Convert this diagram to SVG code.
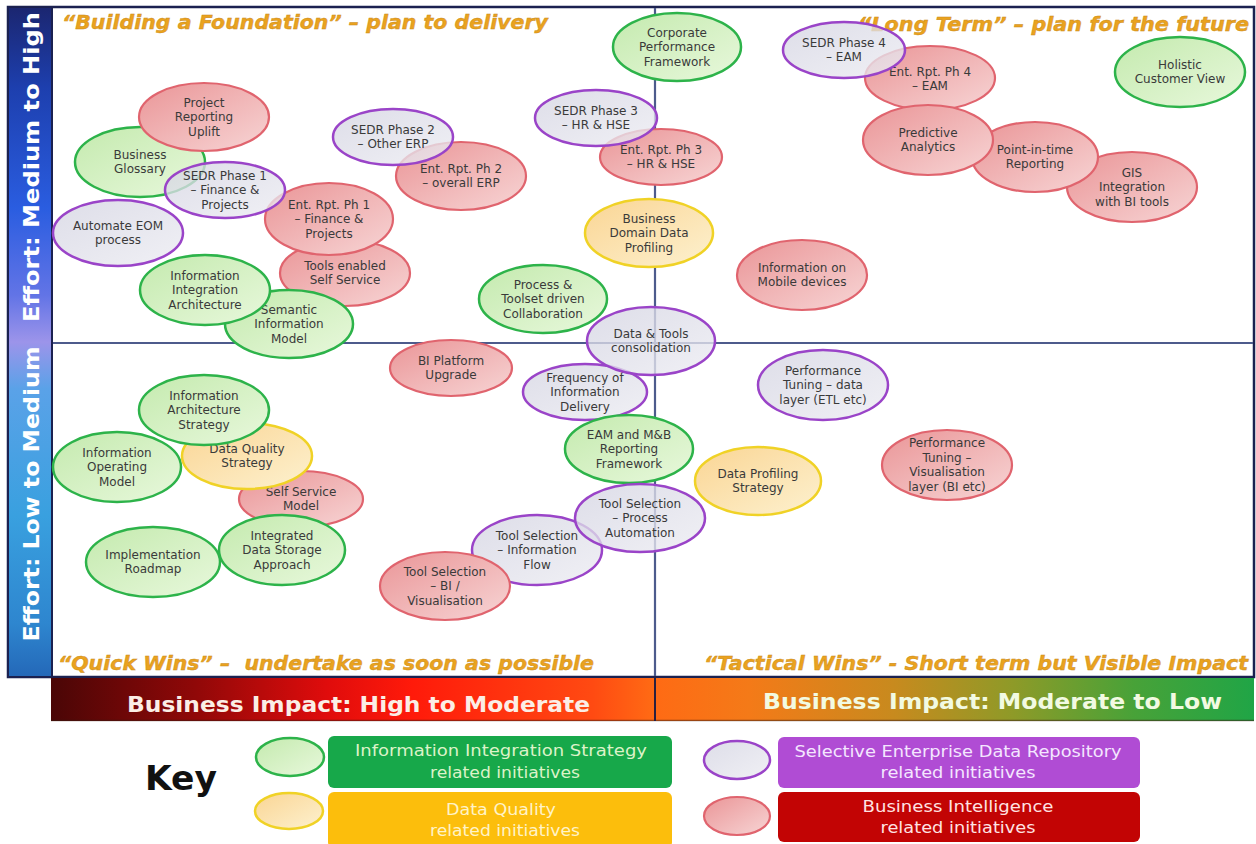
<svg xmlns="http://www.w3.org/2000/svg" width="1256" height="844" viewBox="0 0 1256 844">
  <defs>
    <linearGradient id="leftBar" x1="0" y1="0" x2="0" y2="1">
      <stop offset="0" stop-color="#1b2670"/>
      <stop offset="0.12" stop-color="#1d3fae"/>
      <stop offset="0.3" stop-color="#2a5de0"/>
      <stop offset="0.43" stop-color="#6274e6"/>
      <stop offset="0.5" stop-color="#9c94ea"/>
      <stop offset="0.57" stop-color="#5aa2e8"/>
      <stop offset="0.76" stop-color="#39a0df"/>
      <stop offset="0.92" stop-color="#2e86cf"/>
      <stop offset="1" stop-color="#2468b8"/>
    </linearGradient>
    <linearGradient id="impactBar" x1="0" y1="0" x2="1" y2="0">
      <stop offset="0" stop-color="#4a0606"/>
      <stop offset="0.12" stop-color="#900808"/>
      <stop offset="0.23" stop-color="#e00c0c"/>
      <stop offset="0.3" stop-color="#ff1a0a"/>
      <stop offset="0.45" stop-color="#ff4a12"/>
      <stop offset="0.5" stop-color="#ff6a14"/>
      <stop offset="0.58" stop-color="#f47a18"/>
      <stop offset="0.7" stop-color="#c88a1e"/>
      <stop offset="0.8" stop-color="#8e9a28"/>
      <stop offset="0.9" stop-color="#48a238"/>
      <stop offset="1" stop-color="#20a546"/>
    </linearGradient>
    <linearGradient id="fGreen" x1="0" y1="0" x2="1" y2="1">
      <stop offset="0" stop-color="#c4eaae"/>
      <stop offset="1" stop-color="#e8f8dc"/>
    </linearGradient>
    <linearGradient id="fRed" x1="0" y1="0" x2="1" y2="1">
      <stop offset="0" stop-color="#ea9597"/>
      <stop offset="1" stop-color="#f7d5d5"/>
    </linearGradient>
    <linearGradient id="fPurple" x1="0" y1="0" x2="1" y2="1">
      <stop offset="0" stop-color="#d4d4e2"/>
      <stop offset="1" stop-color="#ececf2"/>
    </linearGradient>
    <linearGradient id="fYellow" x1="0" y1="0" x2="1" y2="1">
      <stop offset="0" stop-color="#fad594"/>
      <stop offset="1" stop-color="#fdf1cf"/>
    </linearGradient>
    <style>
      .node text{font-family:"DejaVu Sans",Verdana,sans-serif;font-size:12px;fill:#3a3a3a;text-anchor:middle}
      .green ellipse{fill:url(#fGreen);stroke:#2db34a;stroke-width:2.5}
      .red ellipse{fill:url(#fRed);stroke:#e0646e;stroke-width:2.2}
      .purple ellipse{fill:url(#fPurple);fill-opacity:.78;stroke:#9a44c8;stroke-width:2.5}
      .yellow ellipse{fill:url(#fYellow);stroke:#f0d226;stroke-width:2.5}
      .title{font-family:"DejaVu Sans",Verdana,sans-serif;font-weight:bold;font-style:italic;font-size:19px;fill:#eaa21f;stroke:#c98a18;stroke-width:.4}
      .axisLabel{font-family:"DejaVu Sans",Verdana,sans-serif;font-weight:bold;font-size:22px;fill:#ffffff;text-anchor:middle}
      .impact{font-family:"DejaVu Sans",Verdana,sans-serif;font-weight:bold;font-size:22px}
      .keyText{font-family:"DejaVu Sans",Verdana,sans-serif;font-size:16px;text-anchor:middle}
      .axis{stroke:#4d5b8c;stroke-width:2.2;fill:none}
    </style>
  </defs>

  <rect x="0" y="0" width="1256" height="844" fill="#ffffff"/>

  <!-- frame and effort bar -->
  <g id="frame">
    <rect x="8" y="7" width="1246" height="670" fill="#ffffff" stroke="#1b2150" stroke-width="2.5"/>
    <rect x="8" y="7" width="44" height="670" fill="url(#leftBar)" stroke="#1b2150" stroke-width="2"/>
    <text class="axisLabel" transform="translate(39,167) rotate(-90)" textLength="310" lengthAdjust="spacingAndGlyphs">Effort: Medium to High</text>
    <text class="axisLabel" transform="translate(39,494) rotate(-90)" textLength="295" lengthAdjust="spacingAndGlyphs">Effort: Low to Medium</text>
  </g>

  <!-- quadrant dividers -->
  <g id="axes">
    <line class="axis" x1="655" y1="8" x2="655" y2="676"/>
    <line class="axis" x1="53" y1="343" x2="1253" y2="343"/>
  </g>

  <!-- quadrant headings -->
  <g id="quadrant-titles">
    <text class="title" x="62" y="29" textLength="486" lengthAdjust="spacingAndGlyphs">“Building a Foundation” – plan to delivery</text>
    <text class="title" x="858" y="31" textLength="391" lengthAdjust="spacingAndGlyphs">“Long Term” – plan for the future</text>
    <text class="title" x="58" y="670" textLength="536" lengthAdjust="spacingAndGlyphs" xml:space="preserve">“Quick Wins” –  undertake as soon as possible</text>
    <text class="title" x="704" y="670" textLength="544" lengthAdjust="spacingAndGlyphs">“Tactical Wins” - Short term but Visible Impact</text>
  </g>

  <!-- initiatives -->
  <g id="nodes">
    <g id="n-business-glossary" class="node green"><ellipse cx="140" cy="162" rx="65" ry="35"/><text x="140" y="158.75"><tspan x="140">Business</tspan><tspan x="140" dy="14.5">Glossary</tspan></text></g>
    <g id="n-project-reporting" class="node red"><ellipse cx="204" cy="117" rx="65" ry="34"/><text x="204" y="106.5"><tspan x="204">Project</tspan><tspan x="204" dy="14.5">Reporting</tspan><tspan x="204" dy="14.5">Uplift</tspan></text></g>
    <g id="n-automate-eom" class="node purple"><ellipse cx="118" cy="233" rx="65" ry="33"/><text x="118" y="229.75"><tspan x="118">Automate EOM</tspan><tspan x="118" dy="14.5">process</tspan></text></g>
    <g id="n-tools-self-service" class="node red"><ellipse cx="345" cy="273" rx="65" ry="33"/><text x="345" y="269.75"><tspan x="345">Tools enabled</tspan><tspan x="345" dy="14.5">Self Service</tspan></text></g>
    <g id="n-ent-rpt-1" class="node red"><ellipse cx="329" cy="219" rx="64" ry="36"/><text x="329" y="208.5"><tspan x="329">Ent. Rpt. Ph 1</tspan><tspan x="329" dy="14.5">– Finance &amp;</tspan><tspan x="329" dy="14.5">Projects</tspan></text></g>
    <g id="n-sedr-1" class="node purple"><ellipse cx="225" cy="190" rx="60" ry="28"/><text x="225" y="179.5"><tspan x="225">SEDR Phase 1</tspan><tspan x="225" dy="14.5">– Finance &amp;</tspan><tspan x="225" dy="14.5">Projects</tspan></text></g>
    <g id="n-semantic-model" class="node green"><ellipse cx="289" cy="324" rx="64" ry="34"/><text x="289" y="313.5"><tspan x="289">Semantic</tspan><tspan x="289" dy="14.5">Information</tspan><tspan x="289" dy="14.5">Model</tspan></text></g>
    <g id="n-info-integration-arch" class="node green"><ellipse cx="205" cy="290" rx="65" ry="35"/><text x="205" y="279.5"><tspan x="205">Information</tspan><tspan x="205" dy="14.5">Integration</tspan><tspan x="205" dy="14.5">Architecture</tspan></text></g>
    <g id="n-ent-rpt-2" class="node red"><ellipse cx="461" cy="176" rx="65" ry="34"/><text x="461" y="172.75"><tspan x="461">Ent. Rpt. Ph 2</tspan><tspan x="461" dy="14.5">– overall ERP</tspan></text></g>
    <g id="n-sedr-2" class="node purple"><ellipse cx="393" cy="137" rx="60" ry="28"/><text x="393" y="133.75"><tspan x="393">SEDR Phase 2</tspan><tspan x="393" dy="14.5">– Other ERP</tspan></text></g>
    <g id="n-process-toolset" class="node green"><ellipse cx="543" cy="299" rx="64" ry="34"/><text x="543" y="288.5"><tspan x="543">Process &amp;</tspan><tspan x="543" dy="14.5">Toolset driven</tspan><tspan x="543" dy="14.5">Collaboration</tspan></text></g>
    <g id="n-corporate-performance" class="node green"><ellipse cx="677" cy="47" rx="64" ry="34"/><text x="677" y="36.5"><tspan x="677">Corporate</tspan><tspan x="677" dy="14.5">Performance</tspan><tspan x="677" dy="14.5">Framework</tspan></text></g>
    <g id="n-ent-rpt-3" class="node red"><ellipse cx="661" cy="157" rx="61" ry="28"/><text x="661" y="153.75"><tspan x="661">Ent. Rpt. Ph 3</tspan><tspan x="661" dy="14.5">– HR &amp; HSE</tspan></text></g>
    <g id="n-sedr-3" class="node purple"><ellipse cx="596" cy="118" rx="61" ry="28"/><text x="596" y="114.75"><tspan x="596">SEDR Phase 3</tspan><tspan x="596" dy="14.5">– HR &amp; HSE</tspan></text></g>
    <g id="n-business-domain-profiling" class="node yellow"><ellipse cx="649" cy="233" rx="64" ry="34"/><text x="649" y="222.5"><tspan x="649">Business</tspan><tspan x="649" dy="14.5">Domain Data</tspan><tspan x="649" dy="14.5">Profiling</tspan></text></g>

    <g id="n-ent-rpt-4" class="node red"><ellipse cx="930" cy="78" rx="65" ry="32"/><text x="930" y="75.75"><tspan x="930">Ent. Rpt. Ph 4</tspan><tspan x="930" dy="14.5">– EAM</tspan></text></g>
    <g id="n-sedr-4" class="node purple"><ellipse cx="844" cy="50" rx="61" ry="28"/><text x="844" y="46.75"><tspan x="844">SEDR Phase 4</tspan><tspan x="844" dy="14.5">– EAM</tspan></text></g>
    <g id="n-holistic-customer" class="node green"><ellipse cx="1180" cy="72" rx="65" ry="35"/><text x="1180" y="68.75"><tspan x="1180">Holistic</tspan><tspan x="1180" dy="14.5">Customer View</tspan></text></g>
    <g id="n-gis-integration" class="node red"><ellipse cx="1132" cy="187" rx="65" ry="35"/><text x="1132" y="176.5"><tspan x="1132">GIS</tspan><tspan x="1132" dy="14.5">Integration</tspan><tspan x="1132" dy="14.5">with BI tools</tspan></text></g>
    <g id="n-point-in-time" class="node red"><ellipse cx="1035" cy="157" rx="63" ry="35"/><text x="1035" y="153.75"><tspan x="1035">Point-in-time</tspan><tspan x="1035" dy="14.5">Reporting</tspan></text></g>
    <g id="n-predictive" class="node red"><ellipse cx="928" cy="140" rx="65" ry="35"/><text x="928" y="136.75"><tspan x="928">Predictive</tspan><tspan x="928" dy="14.5">Analytics</tspan></text></g>
    <g id="n-mobile" class="node red"><ellipse cx="802" cy="275" rx="65" ry="35"/><text x="802" y="271.75"><tspan x="802">Information on</tspan><tspan x="802" dy="14.5">Mobile devices</tspan></text></g>

    <g id="n-info-operating-model" class="node green"><ellipse cx="117" cy="467" rx="64" ry="35"/><text x="117" y="456.5"><tspan x="117">Information</tspan><tspan x="117" dy="14.5">Operating</tspan><tspan x="117" dy="14.5">Model</tspan></text></g>
    <g id="n-self-service-model" class="node red"><ellipse cx="301" cy="499" rx="62" ry="28"/><text x="301" y="495.75"><tspan x="301">Self Service</tspan><tspan x="301" dy="14.5">Model</tspan></text></g>
    <g id="n-data-quality" class="node yellow"><ellipse cx="247" cy="456" rx="65" ry="33"/><text x="247" y="452.75"><tspan x="247">Data Quality</tspan><tspan x="247" dy="14.5">Strategy</tspan></text></g>
    <g id="n-info-arch-strategy" class="node green"><ellipse cx="204" cy="410" rx="65" ry="35"/><text x="204" y="399.5"><tspan x="204">Information</tspan><tspan x="204" dy="14.5">Architecture</tspan><tspan x="204" dy="14.5">Strategy</tspan></text></g>
    <g id="n-implementation-roadmap" class="node green"><ellipse cx="153" cy="562" rx="67" ry="35"/><text x="153" y="558.75"><tspan x="153">Implementation</tspan><tspan x="153" dy="14.5">Roadmap</tspan></text></g>
    <g id="n-integrated-storage" class="node green"><ellipse cx="282" cy="550" rx="63" ry="35"/><text x="282" y="539.5"><tspan x="282">Integrated</tspan><tspan x="282" dy="14.5">Data Storage</tspan><tspan x="282" dy="14.5">Approach</tspan></text></g>
    <g id="n-bi-platform" class="node red"><ellipse cx="451" cy="368" rx="61" ry="28"/><text x="451" y="364.75"><tspan x="451">BI Platform</tspan><tspan x="451" dy="14.5">Upgrade</tspan></text></g>
    <g id="n-frequency" class="node purple"><ellipse cx="585" cy="392" rx="62" ry="28"/><text x="585" y="381.5"><tspan x="585">Frequency of</tspan><tspan x="585" dy="14.5">Information</tspan><tspan x="585" dy="14.5">Delivery</tspan></text></g>
    <g id="n-data-tools" class="node purple"><ellipse cx="651" cy="341" rx="64" ry="34"/><text x="651" y="337.75"><tspan x="651">Data &amp; Tools</tspan><tspan x="651" dy="14.5">consolidation</tspan></text></g>
    <g id="n-eam-mb" class="node green"><ellipse cx="629" cy="449" rx="64" ry="34"/><text x="629" y="438.5"><tspan x="629">EAM and M&amp;B</tspan><tspan x="629" dy="14.5">Reporting</tspan><tspan x="629" dy="14.5">Framework</tspan></text></g>
    <g id="n-tool-info-flow" class="node purple"><ellipse cx="537" cy="550" rx="65" ry="35"/><text x="537" y="539.5"><tspan x="537">Tool Selection</tspan><tspan x="537" dy="14.5">– Information</tspan><tspan x="537" dy="14.5">Flow</tspan></text></g>
    <g id="n-tool-process" class="node purple"><ellipse cx="640" cy="518" rx="65" ry="34"/><text x="640" y="507.5"><tspan x="640">Tool Selection</tspan><tspan x="640" dy="14.5">– Process</tspan><tspan x="640" dy="14.5">Automation</tspan></text></g>
    <g id="n-tool-bi" class="node red"><ellipse cx="445" cy="586" rx="65" ry="34"/><text x="445" y="575.5"><tspan x="445">Tool Selection</tspan><tspan x="445" dy="14.5">– BI /</tspan><tspan x="445" dy="14.5">Visualisation</tspan></text></g>

    <g id="n-perf-data" class="node purple"><ellipse cx="823" cy="385" rx="65" ry="35"/><text x="823" y="374.5"><tspan x="823">Performance</tspan><tspan x="823" dy="14.5">Tuning – data</tspan><tspan x="823" dy="14.5">layer (ETL etc)</tspan></text></g>
    <g id="n-data-profiling" class="node yellow"><ellipse cx="758" cy="481" rx="63" ry="34"/><text x="758" y="477.75"><tspan x="758">Data Profiling</tspan><tspan x="758" dy="14.5">Strategy</tspan></text></g>
    <g id="n-perf-vis" class="node red"><ellipse cx="947" cy="465" rx="65" ry="35"/><text x="947" y="447.25"><tspan x="947">Performance</tspan><tspan x="947" dy="14.5">Tuning –</tspan><tspan x="947" dy="14.5">Visualisation</tspan><tspan x="947" dy="14.5">layer (BI etc)</tspan></text></g>
  </g>

  <!-- business impact bar -->
  <g id="impact-bar">
    <rect x="51" y="678" width="1203" height="43" fill="url(#impactBar)"/>
    <line x1="51" y1="720.5" x2="1254" y2="720.5" stroke="#3a1a10" stroke-opacity=".5" stroke-width="1.5"/>
    <line x1="655" y1="677" x2="655" y2="721" stroke="#2a2040" stroke-width="2"/>
    <text class="impact" x="127" y="712" fill="#fbeee6" textLength="463" lengthAdjust="spacingAndGlyphs">Business Impact: High to Moderate</text>
    <text class="impact" x="763" y="709" fill="#f2fae2" textLength="459" lengthAdjust="spacingAndGlyphs">Business Impact: Moderate to Low</text>
  </g>

  <!-- key -->
  <g id="key">
    <text x="145" y="790" font-family="DejaVu Sans, Verdana, sans-serif" font-weight="bold" font-size="34" fill="#111111" textLength="72" lengthAdjust="spacingAndGlyphs">Key</text>

    <g id="key-green" class="green">
      <ellipse cx="290" cy="757" rx="34" ry="19"/>
      <rect x="328" y="736" width="344" height="52" rx="6" fill="#17a84a"/>
      <text class="keyText" x="501" y="756" fill="#dcf3c8" textLength="292" lengthAdjust="spacingAndGlyphs">Information Integration Strategy</text>
      <text class="keyText" x="505" y="778" fill="#dcf3c8" textLength="150" lengthAdjust="spacingAndGlyphs">related initiatives</text>
    </g>
    <g id="key-yellow" class="yellow">
      <ellipse cx="289" cy="811" rx="34" ry="18"/>
      <rect x="328" y="792" width="344" height="56" rx="6" fill="#fcbe0c"/>
      <text class="keyText" x="501" y="815" fill="#fff3c8" textLength="110" lengthAdjust="spacingAndGlyphs">Data Quality</text>
      <text class="keyText" x="505" y="836" fill="#fff3c8" textLength="150" lengthAdjust="spacingAndGlyphs">related initiatives</text>
    </g>
    <g id="key-purple" class="purple">
      <ellipse cx="737" cy="760" rx="33" ry="19"/>
      <rect x="778" y="737" width="362" height="51" rx="6" fill="#b04cd4"/>
      <text class="keyText" x="958" y="757" fill="#f4e6ff" textLength="327" lengthAdjust="spacingAndGlyphs">Selective Enterprise Data Repository</text>
      <text class="keyText" x="958" y="778" fill="#f4e6ff" textLength="155" lengthAdjust="spacingAndGlyphs">related initiatives</text>
    </g>
    <g id="key-red" class="red">
      <ellipse cx="737" cy="816" rx="33" ry="19"/>
      <rect x="778" y="792" width="362" height="50" rx="6" fill="#c20404"/>
      <text class="keyText" x="958" y="812" fill="#ffe2e2" textLength="191" lengthAdjust="spacingAndGlyphs">Business Intelligence</text>
      <text class="keyText" x="958" y="833" fill="#ffe2e2" textLength="155" lengthAdjust="spacingAndGlyphs">related initiatives</text>
    </g>
  </g>
</svg>
